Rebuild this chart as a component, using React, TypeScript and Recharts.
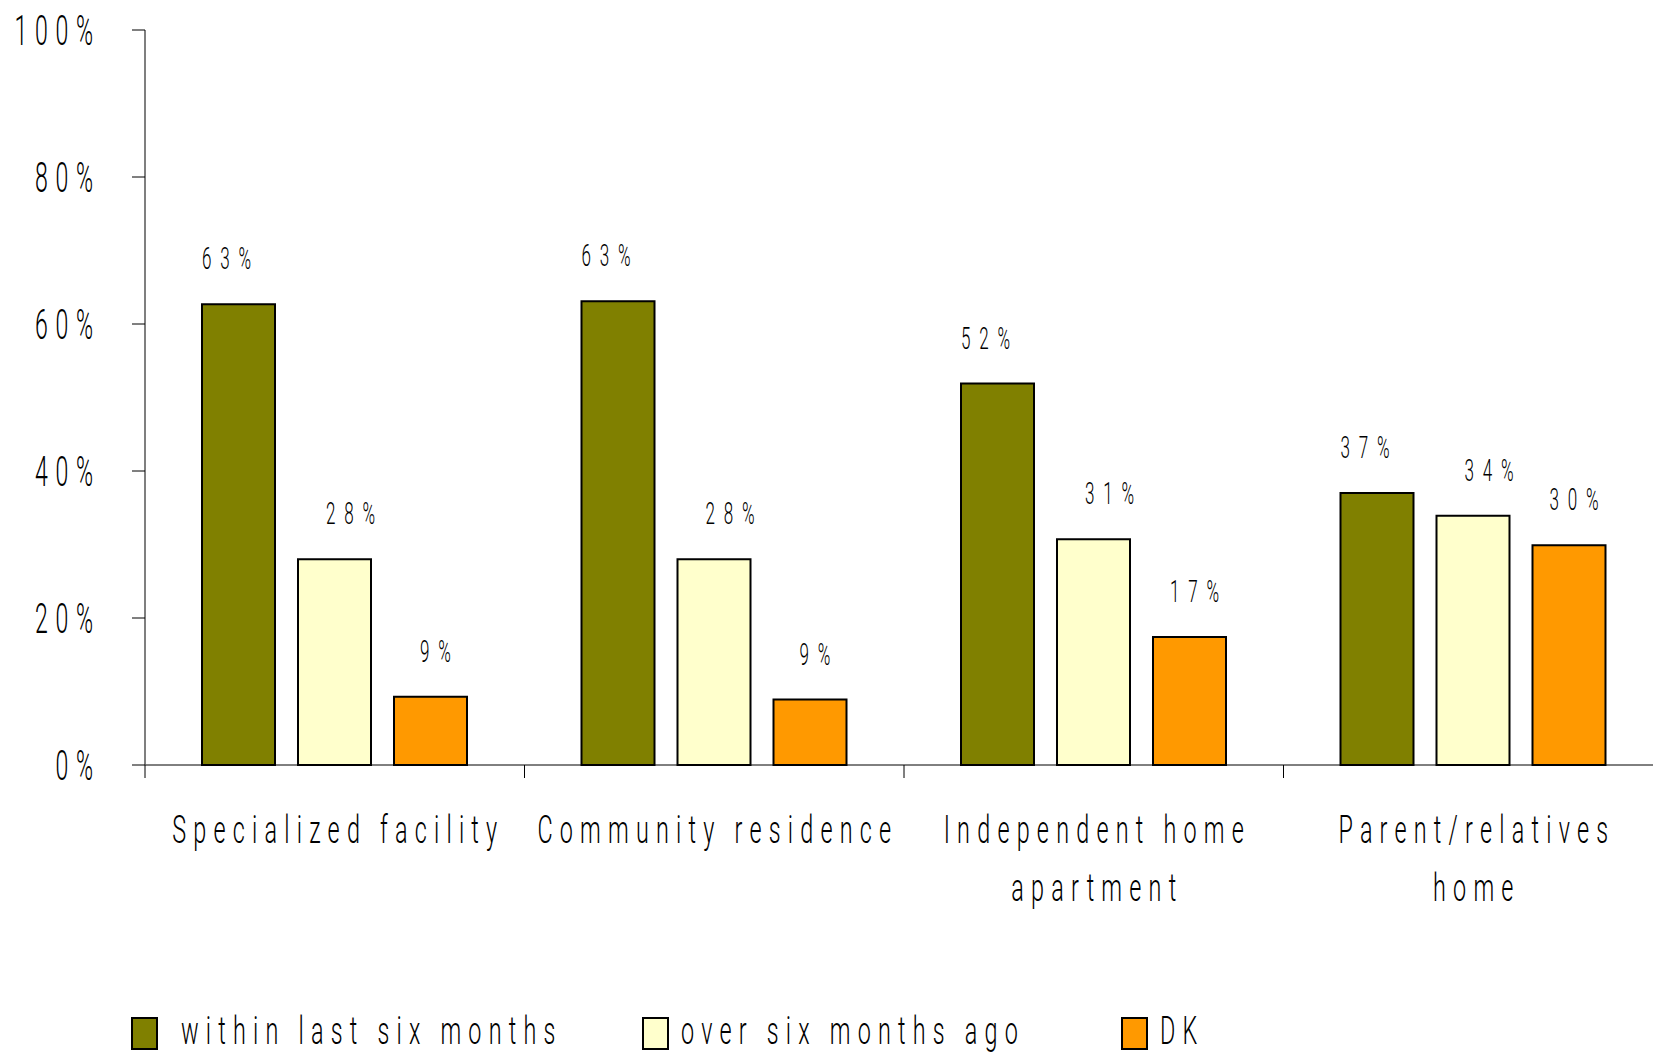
import React from 'react';
import { BarChart, Bar, XAxis, YAxis, Legend, LabelList } from 'recharts';

// ---- data ----
const categories = [
  'Specialized facility',
  'Community residence',
  'Independent home\napartment',
  'Parent/relatives\nhome',
];
const withinLastSixMonths = [62.7, 63.1, 51.9, 37.0];
const overSixMonthsAgo = [28.0, 28.0, 30.7, 33.9];
const dontKnow = [9.3, 8.9, 17.4, 29.9];
const seriesNames = ['within last six months', 'over six months ago', 'DK'];
const yTicks = [0, 20, 40, 60, 80, 100];

// ---- styles ----
const COLORS = ['#808000', '#FFFFCC', '#FF9900'];
const CHART_W = 1670;
const CHART_H = 1053;
const MARGIN = { top: 30, right: 7, bottom: 188, left: 0 };
const Y_W = 145;
const PLOT_W = CHART_W - MARGIN.left - MARGIN.right - Y_W;
const FONT = "Roboto, 'DejaVu Sans', sans-serif";

const data = categories.map((name, i) => ({
  name,
  within: withinLastSixMonths[i],
  over: overSixMonthsAgo[i],
  dk: dontKnow[i],
}));

type STextProps = {
  x: number;
  y: number;
  text: string;
  size: number;
  sx: number;
  ls: number;
  anchor: 'start' | 'middle' | 'end';
};

function SText({ x, y, text, size, sx, ls, anchor }: STextProps) {
  // compensate for trailing letter-spacing
  let cx = x;
  if (anchor === 'end') cx = x + ls * sx;
  if (anchor === 'middle') cx = x + (ls * sx) / 2;
  return (
    <g transform={`translate(${cx},${y}) scale(${sx},1)`}>
      <text
        x={0}
        y={0}
        fontFamily={FONT}
        fontWeight={300}
        fontSize={size}
        letterSpacing={ls}
        textAnchor={anchor}
        fill="#000"
      >
        {text}
      </text>
    </g>
  );
}

const YTick = (props: any) => {
  const { x, y, payload } = props;
  return (
    <SText
      x={x - 39}
      y={y + 15}
      text={`${payload.value}%`}
      size={42}
      sx={0.55}
      ls={14}
      anchor="end"
    />
  );
};

const XTick = (props: any) => {
  const { x, y, payload } = props;
  const band = PLOT_W / categories.length;
  const bx = x - band / 2;
  const lines = String(payload.value).split('\n');
  return (
    <g>
      <line x1={bx} y1={y} x2={bx} y2={y + 13} stroke="#000" strokeWidth={1} />
      {lines.map((l, i) => (
        <SText
          key={i}
          x={x}
          y={y + 78 + i * 58}
          text={l}
          size={39}
          sx={0.6}
          ls={12}
          anchor="middle"
        />
      ))}
    </g>
  );
};

const makeLabel = (dx: number) => (p: any) => {
  const { x, y, width, value } = p;
  return (
    <SText
      x={Number(x) + Number(width) / 2 + dx}
      y={Number(y) - 35}
      text={`${Math.round(Number(value))}%`}
      size={31}
      sx={0.55}
      ls={16}
      anchor="middle"
    />
  );
};

const legendRectX = [132, 643, 1122];
const legendTextX = [181, 681, 1160];

const LegendContent = () => (
  <svg width={1653} height={53} style={{ display: 'block' }}>
    {seriesNames.map((n, i) => (
      <g key={n}>
        <rect
          x={legendRectX[i]}
          y={18}
          width={25}
          height={31}
          fill={COLORS[i]}
          stroke="#000"
          strokeWidth={2}
        />
        <SText
          x={legendTextX[i]}
          y={44}
          text={n}
          size={39}
          sx={0.6}
          ls={12}
          anchor="start"
        />
      </g>
    ))}
  </svg>
);

export default function App() {
  return (
    <div
      style={{
        position: 'absolute',
        left: 0,
        top: 0,
        width: 1653,
        height: 1053,
        overflow: 'hidden',
        background: '#fff',
      }}
    >
      <BarChart
        width={CHART_W}
        height={CHART_H}
        data={data}
        margin={MARGIN}
        barSize={73}
        barGap={23}
      >
        <XAxis
          dataKey="name"
          interval={0}
          height={100}
          tickSize={0}
          tickMargin={0}
          tickLine={false}
          axisLine={{ stroke: '#000', strokeWidth: 1 }}
          tick={<XTick />}
        />
        <YAxis
          type="number"
          domain={[0, 100]}
          ticks={yTicks}
          interval={0}
          width={Y_W}
          tickSize={13}
          tickMargin={0}
          axisLine={{ stroke: '#555', strokeWidth: 1.5 }}
          tickLine={{ stroke: '#000', strokeWidth: 1 }}
          tick={<YTick />}
        />
        <Legend
          layout="horizontal"
          align="center"
          verticalAlign="middle"
          wrapperStyle={{ left: 0, top: 1000, width: 1653, height: 53 }}
          content={<LegendContent />}
        />
        <Bar dataKey="within" name={seriesNames[0]} fill={COLORS[0]} stroke="#000" strokeWidth={2} isAnimationActive={false}>
          <LabelList dataKey="within" content={makeLabel(-12)} />
        </Bar>
        <Bar dataKey="over" name={seriesNames[1]} fill={COLORS[1]} stroke="#000" strokeWidth={2} isAnimationActive={false}>
          <LabelList dataKey="over" content={makeLabel(16)} />
        </Bar>
        <Bar dataKey="dk" name={seriesNames[2]} fill={COLORS[2]} stroke="#000" strokeWidth={2} isAnimationActive={false}>
          <LabelList dataKey="dk" content={makeLabel(5)} />
        </Bar>
      </BarChart>
    </div>
  );
}
